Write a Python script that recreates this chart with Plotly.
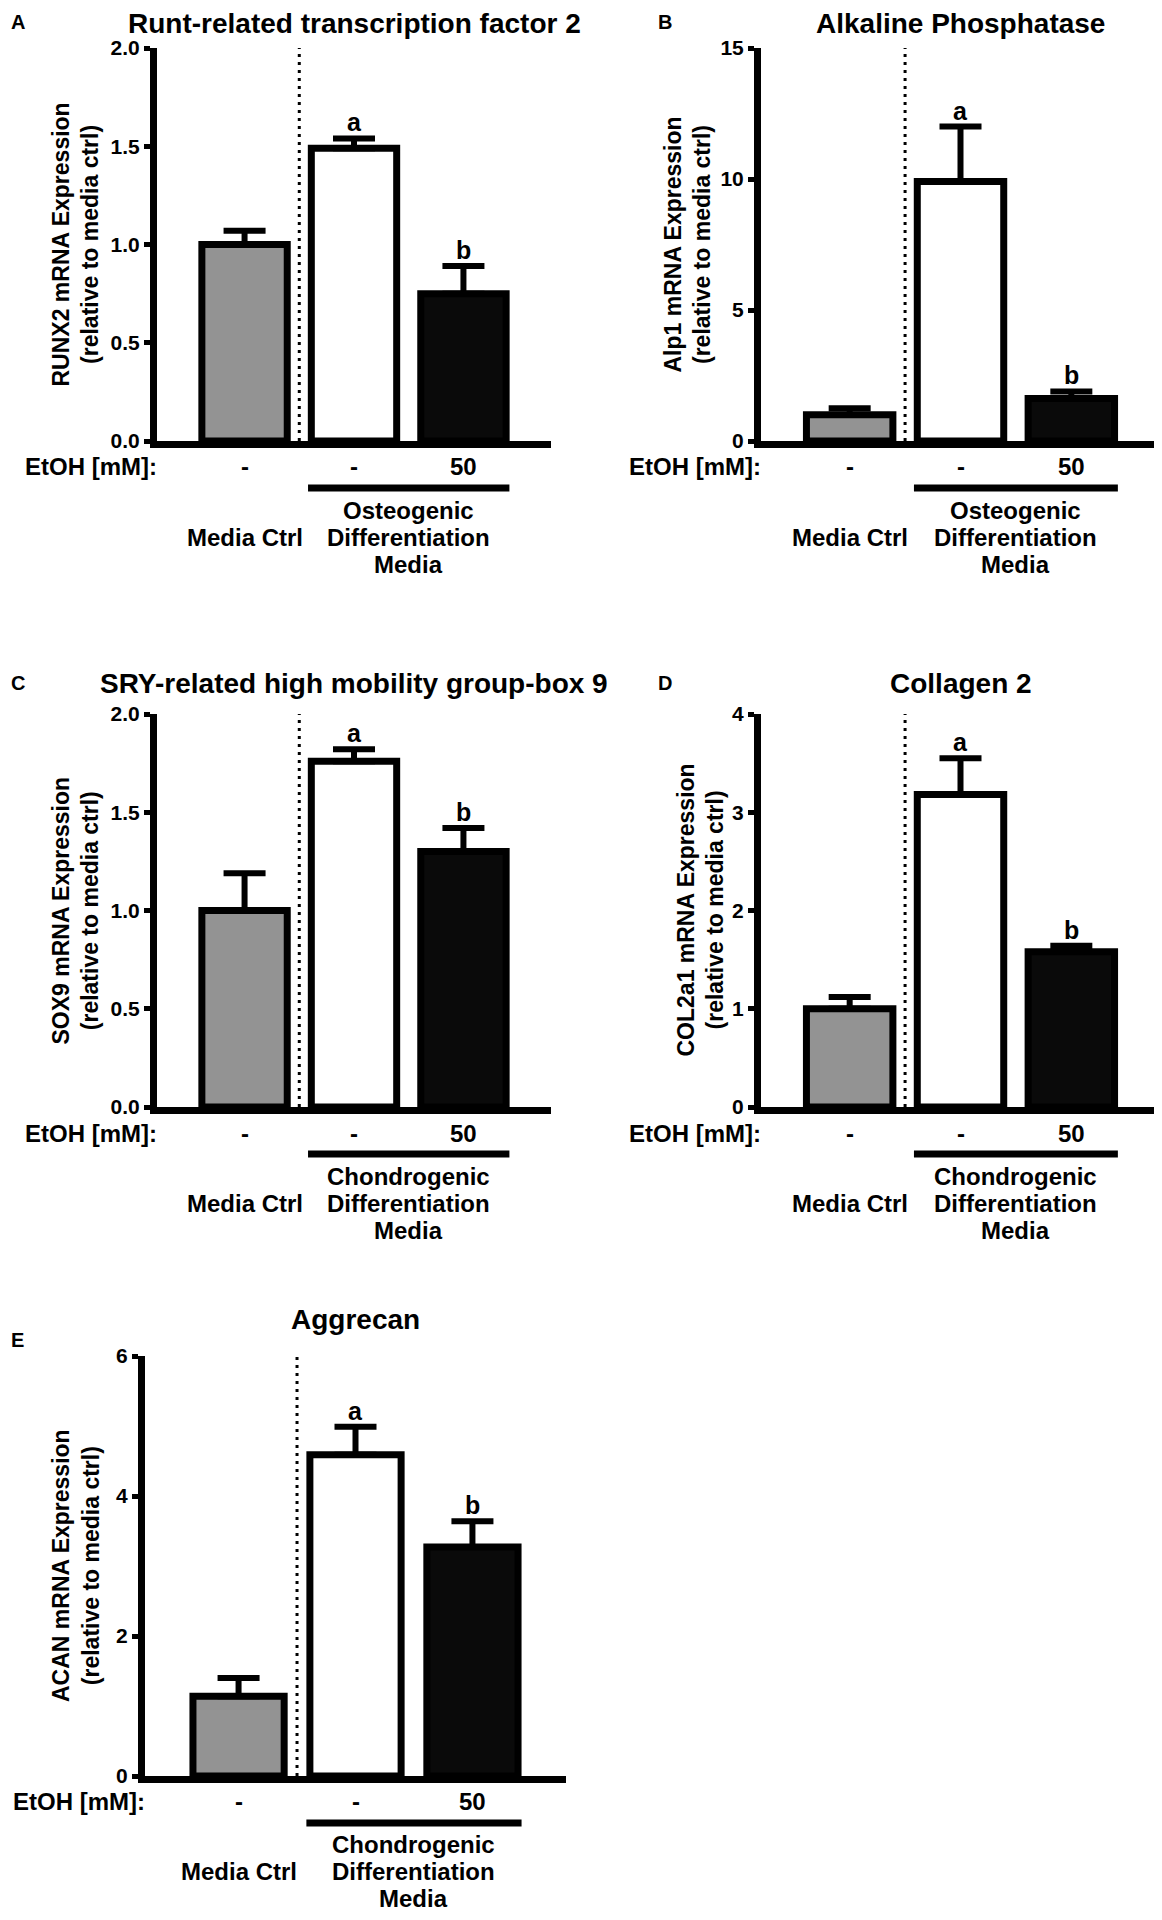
import plotly.graph_objects as go

# ---------------- data ----------------
categories = ["Media Ctrl", "Diff", "Diff + EtOH"]
etoh_labels = ["-", "-", "50"]
sig_letters = ["", "a", "b"]
bar_colors = ["#939393", "#ffffff", "#0a0a0a"]

runx2_mean = [1.00, 1.49, 0.75]
runx2_sem = [0.07, 0.05, 0.14]
alp1_mean = [1.00, 9.90, 1.62]
alp1_sem = [0.25, 2.10, 0.27]
sox9_mean = [1.00, 1.76, 1.30]
sox9_sem = [0.19, 0.06, 0.12]
col2a1_mean = [1.00, 3.18, 1.58]
col2a1_sem = [0.12, 0.37, 0.06]
acan_mean = [1.14, 4.59, 3.27]
acan_sem = [0.26, 0.40, 0.37]

ticks_runx2 = [0, 0.5, 1.0, 1.5, 2.0]
ticktext_runx2 = ["0.0", "0.5", "1.0", "1.5", "2.0"]
ticks_alp1 = [0, 5, 10, 15]
ticks_sox9 = [0, 0.5, 1.0, 1.5, 2.0]
ticktext_sox9 = ["0.0", "0.5", "1.0", "1.5", "2.0"]
ticks_col2a1 = [0, 1, 2, 3, 4]
ticks_acan = [0, 2, 4, 6]

# ---------------- layout helpers ----------------
W, H = 1162, 1920
FONT = "Liberation Sans, Arial, Helvetica, sans-serif"
PAGE_OFFSET = 8  # default body margin of the html page


def fx(p):
    return (p - PAGE_OFFSET) / W


def fy(p):
    return 1 - (p - PAGE_OFFSET) / H


panels = [
    dict(letter="A", mean=runx2_mean, sem=runx2_sem,
         title="Runt-related transcription factor 2",
         ytitle="RUNX2 mRNA Expression<br>(relative to media ctrl)",
         tickvals=ticks_runx2, ticktext=ticktext_runx2, ymax=2.0,
         media=["Osteogenic", "Differentiation", "Media"],
         box=(157, 551, 48, 441), title_y=24, letter_xy=(18, 22),
         rows=(467, 488, 510), ytoff=82),
    dict(letter="B", mean=alp1_mean, sem=alp1_sem,
         title="Alkaline Phosphatase",
         ytitle="Alp1 mRNA Expression<br>(relative to media ctrl)",
         tickvals=ticks_alp1, ticktext=[str(v) for v in ticks_alp1], ymax=15,
         media=["Osteogenic", "Differentiation", "Media"],
         box=(761, 1160, 48, 441), title_y=24, letter_xy=(665, 22),
         rows=(467, 488, 510), ytoff=74),
    dict(letter="C", mean=sox9_mean, sem=sox9_sem,
         title="SRY-related high mobility group-box 9",
         ytitle="SOX9 mRNA Expression<br>(relative to media ctrl)",
         tickvals=ticks_sox9, ticktext=ticktext_sox9, ymax=2.0,
         media=["Chondrogenic", "Differentiation", "Media"],
         box=(157, 551, 714, 1107), title_y=683, letter_xy=(18, 683),
         rows=(1133, 1154, 1176), ytoff=81),
    dict(letter="D", mean=col2a1_mean, sem=col2a1_sem,
         title="Collagen 2",
         ytitle="COL2a1 mRNA Expression<br>(relative to media ctrl)",
         tickvals=ticks_col2a1, ticktext=[str(v) for v in ticks_col2a1], ymax=4,
         media=["Chondrogenic", "Differentiation", "Media"],
         box=(761, 1160, 714, 1107), title_y=683, letter_xy=(665, 683),
         rows=(1133, 1154, 1176), ytoff=60),
    dict(letter="E", mean=acan_mean, sem=acan_sem,
         title="Aggrecan",
         ytitle="ACAN mRNA Expression<br>(relative to media ctrl)",
         tickvals=ticks_acan, ticktext=[str(v) for v in ticks_acan], ymax=6,
         media=["Chondrogenic", "Differentiation", "Media"],
         box=(145, 566, 1356, 1776), title_y=1319, letter_xy=(18, 1340),
         rows=(1801, 1823, 1844), ytoff=69),
]

fig = go.Figure()
annotations = []
shapes = []
LINE_SPACING = 27


def bold(s):
    return dict(size=s, family=FONT, color="black", weight="bold")


for i, p in enumerate(panels):
    n = "" if i == 0 else str(i + 1)
    xa, ya = "x" + n, "y" + n
    l, r, t, b = p["box"]

    fig.add_trace(go.Bar(
        x=categories, y=p["mean"], xaxis=xa, yaxis=ya, width=0.78,
        marker=dict(color=bar_colors, line=dict(color="black", width=7)),
        error_y=dict(type="data", symmetric=False, array=p["sem"],
                     arrayminus=[0, 0, 0], color="black", thickness=6, width=21),
        showlegend=False, hoverinfo="skip",
    ))

    fig.update_layout(**{
        "xaxis" + n: dict(domain=[fx(l), fx(r)], range=[-0.8, 2.8], type="category",
                          categoryorder="array", categoryarray=categories,
                          showline=True, linewidth=7, linecolor="black",
                          showticklabels=False, ticks="", showgrid=False,
                          zeroline=False, anchor=ya, automargin=False),
        "yaxis" + n: dict(domain=[fy(b), fy(t)], range=[0, p["ymax"]],
                          showline=True, linewidth=7, linecolor="black",
                          ticks="outside", ticklen=6, tickwidth=5, tickcolor="black",
                          tickvals=p["tickvals"], ticktext=p["ticktext"],
                          tickfont=bold(21), automargin=False,
                          showgrid=False, zeroline=False, anchor=xa),
    })

    # title
    annotations.append(dict(text=p["title"], x=fx((l + r) / 2), y=fy(p["title_y"]),
                            xref="paper", yref="paper", xanchor="center", yanchor="middle",
                            showarrow=False, font=bold(28)))
    # panel letter
    lx, ly = p["letter_xy"]
    annotations.append(dict(text=p["letter"], x=fx(lx), y=fy(ly), xref="paper", yref="paper",
                            xanchor="center", yanchor="middle", showarrow=False, font=bold(20)))
    # y title
    annotations.append(dict(text=p["ytitle"], x=fx(l - p["ytoff"]), y=fy((t + b) / 2),
                            xref="paper", yref="paper", xanchor="center", yanchor="middle",
                            textangle=-90, showarrow=False, font=bold(23)))
    # EtOH row
    etoh_y, line_y, media1_y = p["rows"]
    annotations.append(dict(text="EtOH [mM]:", x=fx(l + 2), y=fy(etoh_y), xref="paper",
                            yref="paper", xanchor="right", yanchor="middle",
                            showarrow=False, font=bold(24)))
    for k, lab in enumerate(etoh_labels):
        annotations.append(dict(text=lab, x=k, y=fy(etoh_y), xref=xa, yref="paper",
                                xanchor="center", yanchor="middle", showarrow=False,
                                font=bold(24)))
    # underline
    shapes.append(dict(type="line", xref=xa, yref="paper", x0=1 - 0.42, x1=2 + 0.42,
                       y0=fy(line_y), y1=fy(line_y), line=dict(color="black", width=7)))
    # group labels
    for j, txt in enumerate(p["media"]):
        annotations.append(dict(text=txt, x=1.5, y=fy(media1_y + j * LINE_SPACING), xref=xa,
                                yref="paper", xanchor="center", yanchor="middle",
                                showarrow=False, font=bold(24)))
    annotations.append(dict(text="Media Ctrl", x=0, y=fy(media1_y + LINE_SPACING), xref=xa,
                            yref="paper", xanchor="center", yanchor="middle",
                            showarrow=False, font=bold(24)))
    # significance letters
    for k, s in enumerate(sig_letters):
        if s:
            annotations.append(dict(text=s, x=k, y=p["mean"][k] + p["sem"][k], xref=xa,
                                    yref=ya, xanchor="center", yanchor="bottom", yshift=0,
                                    showarrow=False, font=bold(25)))
    # dotted separator
    shapes.append(dict(type="line", xref=xa, yref=ya, x0=0.5, x1=0.5, y0=0, y1=p["ymax"],
                       line=dict(color="black", width=3, dash="3px,5px")))

fig.update_layout(
    width=W, height=H, margin=dict(l=0, r=0, t=0, b=0, autoexpand=False),
    paper_bgcolor="white", plot_bgcolor="white",
    font=dict(family=FONT, color="black"),
    annotations=annotations, shapes=shapes, bargap=0.2,
)

fig.write_html("out.html")
